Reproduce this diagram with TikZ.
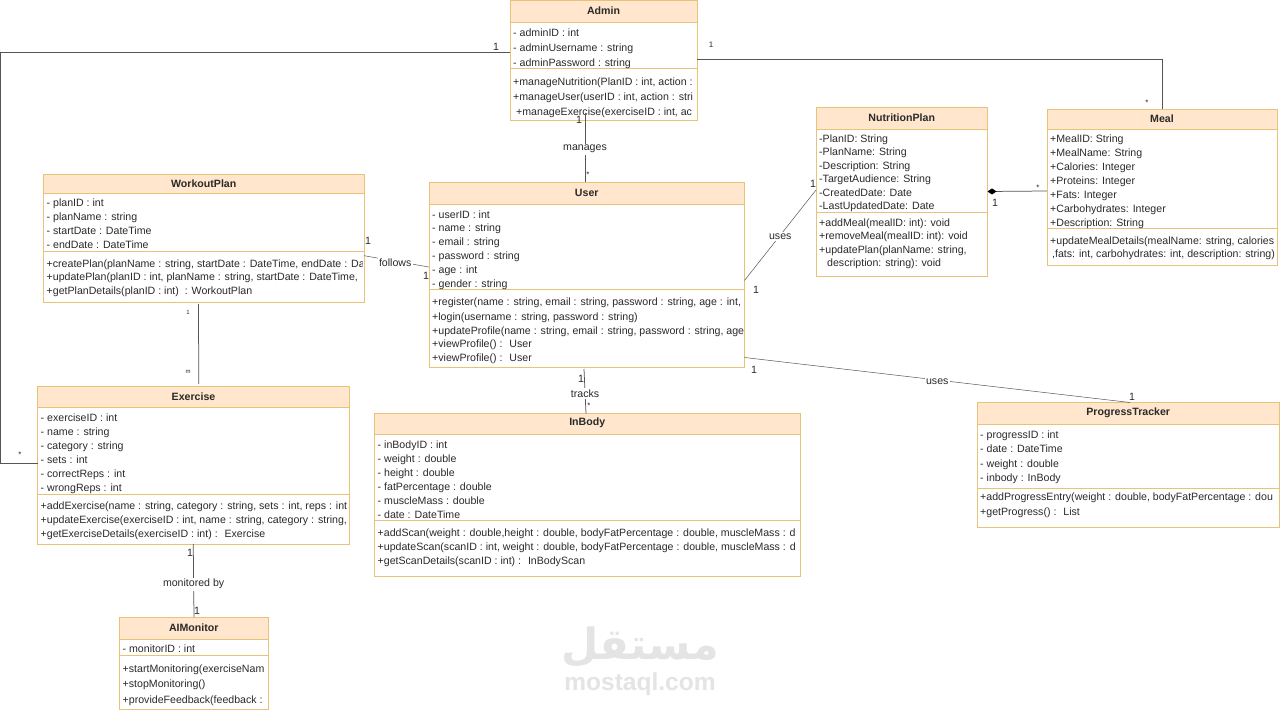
\documentclass[tikz,border=0pt]{standalone}
\usepackage{fontspec}
\setmainfont{Liberation Sans}
\newfontfamily\arabicfont[Script=Arabic]{DejaVu Sans}
\TeXXeTstate=1
\usetikzlibrary{arrows.meta}
\definecolor{hdr}{HTML}{FFE6CC}
\definecolor{edge}{HTML}{E9C27A}
\definecolor{ink}{HTML}{2A2A2A}
\definecolor{wire}{HTML}{555555}
\definecolor{mark}{HTML}{E4E4E4}
\tikzset{
  classbox/.style={draw=edge,line width=0.9pt,fill=white,inner sep=0pt,outer sep=0pt},
  titletext/.style={font=\fontsize{10.6}{13}\selectfont\bfseries,text=ink,inner sep=0pt},
  wireline/.style={draw=wire,line width=0.75pt},
  wirelabel/.style={fill=white,inner sep=1.5pt,text=ink,yshift=-1.5pt,font=\fontsize{10.6}{12}\selectfont},
  multi/.style={inner sep=0pt,text=ink,font=\fontsize{10.6}{12}\selectfont},
  multismall/.style={inner sep=0pt,text=ink,font=\fontsize{8}{9}\selectfont},
  multitiny/.style={inner sep=0pt,text=ink,font=\fontsize{6}{7}\selectfont}
}
% id L T R B headerBottom divider Title
\newcommand{\umlclass}[8]{%
  \node[classbox,minimum width={(#4-#2)*1pt},minimum height={(#5-#3)*1pt}] (#1) at ({(#2+#4)/2},{(#3+#5)/2}) {};
  \fill[hdr] (#2,#3) rectangle (#4,#6);
  \draw[edge,line width=0.9pt] (#2,#3) rectangle (#4,#5);
  \draw[edge,line width=0.9pt] (#2,#6) -- (#4,#6);
  \draw[edge,line width=0.9pt] (#2,#7) -- (#4,#7);
  \node[titletext] (#1-title) at ({(#2+#4)/2},{(#3+#6)/2-0.5}) {#8};
}
% name L R firstLineCentre baselineStep text
\newcommand{\compart}[6]{%
  \begin{scope}
    \clip (#2,{#4-8}) rectangle ({#3-1.5},{#4+90});
    \node[anchor=north west,inner sep=0pt,align=left,text=ink,
          font=\fontsize{10.6}{#5}\selectfont] (#1) at ({#2+3},{#4-6}) {\strut #6};
  \end{scope}
}
\begin{document}
\begin{tikzpicture}[x=1pt,y=-1pt]
\useasboundingbox (0,0) rectangle (1280,711);
\fill[white] (0,0) rectangle (1280,711);

% watermark
\node[text=mark,inner sep=0pt,text height=24pt,text depth=10pt,font=\arabicfont\bfseries\fontsize{43}{43}\selectfont] (wmar) at (640,652) {\beginR مستقل\endR};
\node[text=mark,inner sep=0pt,font=\fontsize{24.5}{26}\selectfont\bfseries] (wmen) at (640,684) {mostaql.com};

% classes
\umlclass{admin}{510}{0.5}{697}{120}{22}{68}{Admin}
\compart{admin-attrs}{510}{697}{32}{15}{- adminID : int\\- adminUsername : string\\- adminPassword : string}
\compart{admin-ops}{510}{697}{81}{15}{+manageNutrition(PlanID : int, action :\\+manageUser(userID : int, action : stri\\\hspace*{3pt}+manageExercise(exerciseID : int, ac}

\umlclass{user}{429}{182.5}{744.5}{367}{204}{289}{User}
\compart{user-attrs}{429}{744.5}{214}{14}{- userID : int\\- name : string\\- email : string\\- password : string\\- age : int\\- gender : string}
\compart{user-ops}{429}{744.5}{302}{14}{+register(name : string, email : string, password : string, age : int,\\+login(username : string, password : string)\\+updateProfile(name : string, email : string, password : string, age\\+viewProfile() :~ User\\+viewProfile() :~ User}

\umlclass{nutrition}{816}{107.5}{987.5}{276}{129}{212}{NutritionPlan}
\compart{nutrition-attrs}{816}{987.5}{139}{13.4}{-PlanID: String\\-PlanName: String\\-Description: String\\-TargetAudience: String\\-CreatedDate: Date\\-LastUpdatedDate: Date}
\compart{nutrition-ops}{816}{987.5}{223}{13.3}{+addMeal(mealID: int): void\\+removeMeal(mealID: int): void\\+updatePlan(planName: string,\\\hspace*{8pt}description: string): void}

\umlclass{meal}{1047}{109.5}{1277}{265}{129}{228}{Meal}
\compart{meal-attrs}{1047}{1277}{139}{13.9}{+MealID: String\\+MealName: String\\+Calories: Integer\\+Proteins: Integer\\+Fats: Integer\\+Carbohydrates: Integer\\+Description: String}
\compart{meal-ops}{1047}{1277}{241}{13}{+updateMealDetails(mealName: string, calories\\\hspace*{2pt},fats: int, carbohydrates: int, description: string)}

\umlclass{workout}{43.5}{174.5}{364}{302.5}{193}{251}{WorkoutPlan}
\compart{workout-attrs}{43.5}{364}{203}{14}{- planID : int\\- planName : string\\- startDate : DateTime\\- endDate : DateTime}
\compart{workout-ops}{43.5}{364}{263}{14}{+createPlan(planName : string, startDate : DateTime, endDate : Da\\+updatePlan(planID : int, planName : string, startDate : DateTime,\\+getPlanDetails(planID : int)~ : WorkoutPlan}

\umlclass{exercise}{37.5}{386.5}{349.5}{544}{407}{494}{Exercise}
\compart{exercise-attrs}{37.5}{349.5}{418}{13.9}{- exerciseID : int\\- name : string\\- category : string\\- sets : int\\- correctReps : int\\- wrongReps : int}
\compart{exercise-ops}{37.5}{349.5}{505.5}{14}{+addExercise(name : string, category : string, sets : int, reps : int\\+updateExercise(exerciseID : int, name : string, category : string,\\+getExerciseDetails(exerciseID : int) :~ Exercise}

\umlclass{monitor}{119.5}{617}{268}{709}{639}{655}{AIMonitor}
\compart{monitor-attrs}{119.5}{268}{648}{14}{- monitorID : int}
\compart{monitor-ops}{119.5}{268}{667}{15.5}{+startMonitoring(exerciseNam\\+stopMonitoring()\\+provideFeedback(feedback :}

\umlclass{inbody}{374.5}{413.5}{800}{576}{434}{520}{InBody}
\compart{inbody-attrs}{374.5}{800}{444}{14}{- inBodyID : int\\- weight : double\\- height : double\\- fatPercentage : double\\- muscleMass : double\\- date : DateTime}
\compart{inbody-ops}{374.5}{800}{532.5}{14}{+addScan(weight : double,height : double, bodyFatPercentage : double, muscleMass : d\\+updateScan(scanID : int, weight : double, bodyFatPercentage : double, muscleMass : d\\+getScanDetails(scanID : int) :~ InBodyScan}

\umlclass{progress}{977}{402.5}{1279.5}{527.5}{424.5}{488}{ProgressTracker}
\compart{progress-attrs}{977}{1279.5}{434}{14.4}{- progressID : int\\- date : DateTime\\- weight : double\\- inbody : InBody}
\compart{progress-ops}{977}{1279.5}{496}{14.7}{+addProgressEntry(weight : double, bodyFatPercentage : dou\\+getProgress() :~ List}

% connectors (x shift is from the anchor centre; y shift is up-positive)
\coordinate (leftA) at (0.5,52.5);
\coordinate (leftB) at (0.5,463);
\draw[wireline] ([yshift=7.75pt]admin.west) -- (leftA) -- (leftB) -- ([yshift=2.25pt]exercise.west);
\coordinate (mealcorner) at (1162.5,59);
\draw[wireline] ([yshift=1.25pt]admin.east) -- (mealcorner) -- (mealcorner |- meal.north);
\draw[wireline] ([xshift=-18.5pt,yshift=7pt]admin.south) -- node[wirelabel,pos=0.5] (lmanages) {manages} ([xshift=-1.75pt]user.north);
\draw[wireline,line width=0.5pt] ([yshift=-17.2pt]workout.east) -- node[wirelabel,pos=0.48] (lfollows) {follows} ([yshift=7.7pt]user.west);
\draw[wireline,line width=0.5pt] ([yshift=-5.7pt]user.east) -- node[wirelabel,pos=0.5] (luses1) {uses} ([yshift=1.75pt]nutrition.west);
\draw[wireline,arrows={Diamond[length=9pt,width=6pt,black]-}] ([yshift=0.25pt]nutrition.east) -- ([yshift=-3.75pt]meal.west);
\draw[wireline,line width=0.5pt] ([yshift=-82.75pt]user.east) -- node[wirelabel,pos=0.5] (luses2) {uses} ([xshift=1.75pt]progress.north);
\draw[wireline] ([xshift=-2.75pt,yshift=-2pt]user.south) -- node[wirelabel,pos=0.52] (ltracks) {tracks} ([xshift=-1.25pt]inbody.north);
\draw[wireline] ([xshift=-5.25pt,yshift=-1.5pt]workout.south) -- ([xshift=5.25pt,yshift=2.5pt]exercise.north);
\draw[wireline] ([xshift=-0.25pt]exercise.south) -- node[wirelabel,pos=0.53] (lmonitored) {monitored by} ([xshift=0.25pt]monitor.north);

% multiplicities
\node[multi] (m1) at (496,47) {1};
\node[multismall] (m2) at (20,455) {*};
\node[multismall] (m3) at (711,45) {1};
\node[multismall] (m4) at (1147,103) {*};
\node[multi] (m5) at (579,120) {1};
\node[multismall] (m6) at (588,175) {*};
\node[multi] (m7) at (368,241) {1};
\node[multi] (m8) at (426,276) {1};
\node[multi] (m9) at (756,290) {1};
\node[multi] (m10) at (813,184) {1};
\node[multi] (m11) at (995,203) {1};
\node[multismall] (m12) at (1038,188) {*};
\node[multi] (m13) at (754,370) {1};
\node[multi] (m14) at (1132,397) {1};
\node[multi] (m15) at (581,379) {1};
\node[multismall] (m16) at (589,406) {*};
\node[multitiny] (m17) at (188,312) {1};
\node[multitiny] (m18) at (188,372) {m};
\node[multi] (m19) at (190,553) {1};
\node[multi] (m20) at (197,611) {1};
\end{tikzpicture}
\end{document}
